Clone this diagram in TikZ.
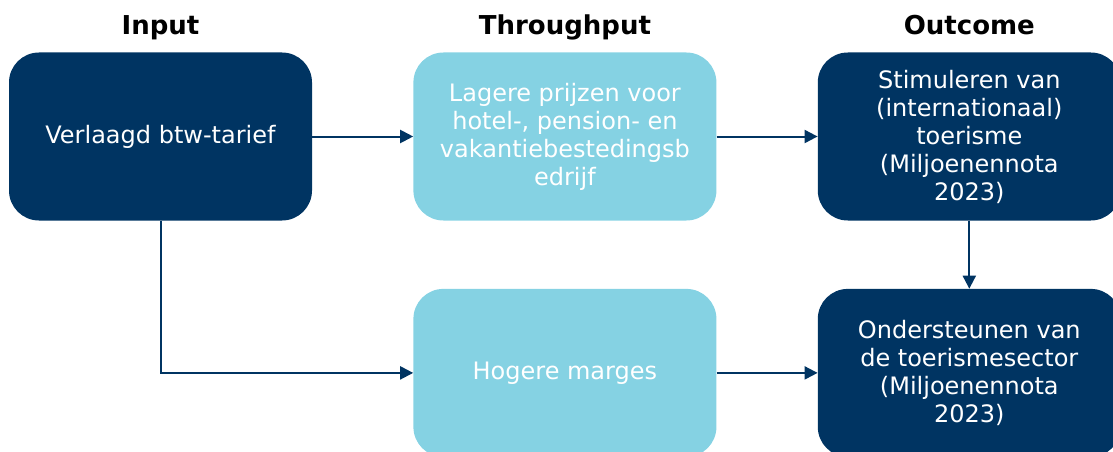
\documentclass[tikz,border=0pt]{standalone}
\usepackage{fontspec}
\setmainfont{DejaVu Sans}
\usepackage{xcolor}
\usepackage{tikz}
\usetikzlibrary{positioning,arrows.meta}

\definecolor{navy}{RGB}{0,52,98}
\definecolor{lightblue}{RGB}{133,210,227}

\begin{document}
\begin{tikzpicture}[
  node distance=68pt and 101pt,
  box/.style={rounded corners=30pt,minimum height=168pt,
              minimum width=303pt,align=center,text=white,
              font=\fontsize{24}{28}\selectfont},
  dark/.style={box,fill=navy},
  light/.style={box,fill=lightblue},
  head/.style={anchor=base,font=\fontsize{26}{30}\selectfont\bfseries},
  arr/.style ={-{Triangle[length=13pt,width=13pt]},line width=2pt,navy}]
  \useasboundingbox (0,0) rectangle (1113pt,-452pt);
  \node[dark] (inp) at (160.5pt,-136.5pt) {Verlaagd btw-tarief};
  \node[light,right=of inp] (prijs) {Lagere prijzen voor\\ hotel-, pension- en\\ vakantiebestedingsb\\ edrijf};
  \node[dark,right=of prijs] (stim) {Stimuleren van\\ (internationaal)\\ toerisme\\ (Miljoenennota\\ 2023)};
  \node[light,below=of prijs] (marge) {Hogere marges};
  \node[dark,below=of stim] (onder) {Ondersteunen van\\ de toerismesector\\ (Miljoenennota\\ 2023)};
  \node[head] (hin) at (inp.north |- 0,-35pt) {Input};
  \node[head] (hthr) at (prijs.north |- 0,-35pt) {Throughput};
  \node[head] (hout) at (stim.north |- 0,-35pt) {Outcome};
  \draw[arr] (inp)--(prijs); \draw[arr] (prijs)--(stim);
  \draw[arr] (stim)--(onder); \draw[arr] (marge)--(onder);
  \draw[arr] (inp) |- (marge);
\end{tikzpicture}
\end{document}
